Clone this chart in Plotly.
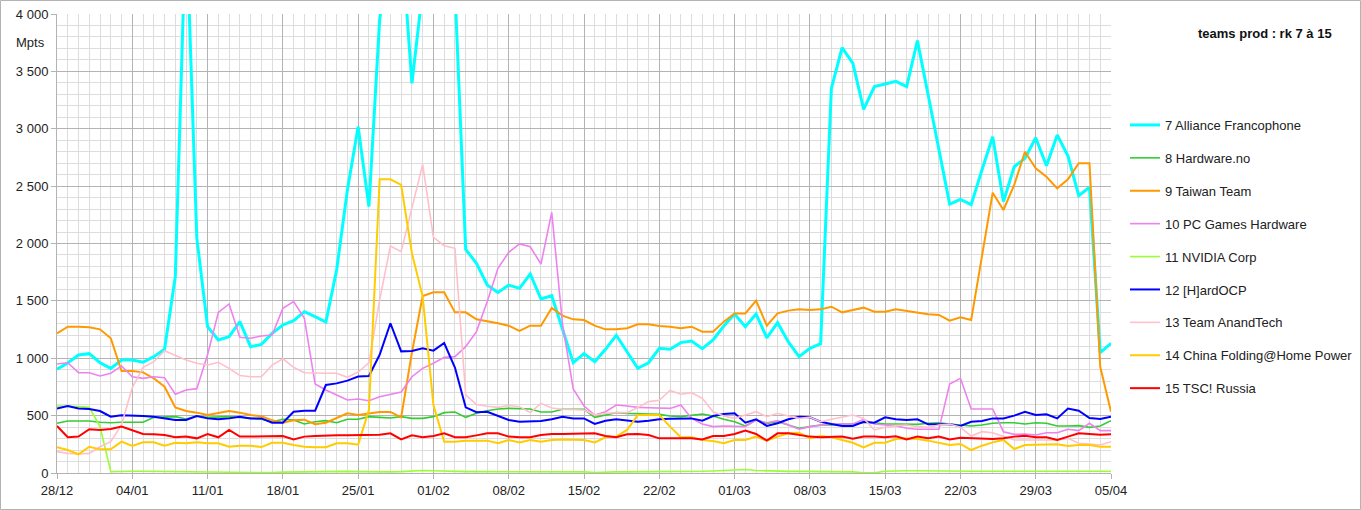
import pandas as pd
import plotly.graph_objects as go

dates = pd.date_range("2020-12-28", "2021-04-05", freq="D")

names = ["7 Alliance Francophone", "8 Hardware.no", "9 Taiwan Team", "10 PC Games Hardware",
         "11 NVIDIA Corp", "12 [H]ardOCP", "13 Team AnandTech", "14 China Folding@Home Power",
         "15 TSC! Russia"]
colors = ["#00FFFF", "#33CC33", "#FF9900", "#EE82EE", "#99FF33", "#0000FF", "#FFC0CB", "#FFCC00", "#FF0000"]
widths = [3, 1.6, 2, 1.6, 1.6, 2, 1.6, 2, 2]

alliance = [904, 958, 1028, 1040, 961, 912, 985,
            985, 965, 1014, 1078, 1711, 4850, 2045,
            1275, 1159, 1188, 1319, 1101, 1121, 1217,
            1290, 1327, 1406, 1362, 1316, 1769, 2466,
            3018, 2321, 3950, 4600, 4700, 3396, 4210,
            4500, 4400, 4220, 1949, 1827, 1638, 1574,
            1638, 1609, 1734, 1516, 1545, 1250, 961,
            1040, 970, 1078, 1200, 1057, 912, 961,
            1086, 1078, 1136, 1150, 1083, 1159, 1281,
            1386, 1275, 1386, 1177, 1310, 1142, 1014,
            1086, 1127, 3352, 3707, 3570, 3169, 3367,
            3390, 3413, 3367, 3768, 3294, 2821, 2344,
            2385, 2338, 2641, 2931, 2365, 2669, 2742,
            2922, 2678, 2946, 2763, 2417, 2490, 1049,
            1130]
hardware_no = [433, 453, 453, 453, 442, 438, 442,
               442, 442, 485, 485, 491, 471, 497,
               485, 491, 491, 485, 479, 468, 447,
               468, 462, 427, 447, 456, 438, 468,
               468, 491, 485, 479, 491, 476, 476,
               491, 526, 532, 485, 520, 543, 558,
               563, 561, 558, 532, 532, 555, 555,
               555, 485, 508, 526, 520, 514, 514,
               511, 497, 491, 505, 514, 497, 468,
               447, 410, 462, 433, 447, 418, 390,
               404, 418, 418, 427, 427, 438, 438,
               427, 427, 424, 424, 433, 438, 427,
               418, 410, 418, 433, 438, 438, 427,
               438, 433, 410, 410, 413, 398, 410,
               456]
taiwan = [1217, 1275, 1275, 1270, 1252, 1174, 889,
          889, 877, 825, 752, 572, 540, 526,
          505, 520, 540, 526, 505, 494, 459,
          438, 459, 465, 426, 438, 476, 520,
          505, 520, 532, 532, 485, 1050, 1543,
          1575, 1575, 1400, 1400, 1339, 1325, 1305,
          1284, 1238, 1284, 1284, 1438, 1371, 1339,
          1333, 1284, 1252, 1252, 1261, 1296, 1296,
          1281, 1275, 1261, 1275, 1232, 1232, 1319,
          1391, 1391, 1502, 1284, 1391, 1415, 1426,
          1421, 1426, 1449, 1400, 1421, 1441, 1406,
          1406, 1426, 1412, 1397, 1383, 1377, 1327,
          1357, 1333, 1888, 2443, 2292, 2510, 2800,
          2655, 2582, 2481, 2559, 2699, 2699, 926,
          534]
pcgh = [950, 961, 874, 874, 845, 869, 933,
        839, 825, 839, 831, 686, 723, 735,
        1030, 1400, 1473, 1182, 1174, 1194, 1203,
        1435, 1493, 1348, 776, 723, 680, 636,
        645, 630, 665, 688, 706, 839, 912,
        956, 1008, 1014, 1101, 1232, 1493, 1784,
        1923, 1996, 1972, 1821, 2272, 1300, 732,
        584, 505, 534, 593, 584, 572, 569,
        569, 563, 593, 476, 427, 404, 410,
        410, 404, 462, 438, 456, 418, 381,
        404, 418, 427, 427, 427, 468, 427,
        418, 413, 390, 381, 381, 381, 776,
        825, 558, 558, 558, 360, 337, 340,
        331, 351, 351, 381, 369, 433, 369,
        369]
nvidia = [584, 584, 578, 572, 404, 11, 15,
          15, 15, 14, 12, 10, 10, 10,
          10, 10, 10, 10, 8, 5, 3,
          8, 10, 10, 10, 10, 12, 14,
          12, 10, 10, 10, 12, 20, 22,
          20, 16, 14, 12, 12, 12, 12,
          12, 12, 10, 10, 10, 8, 8,
          10, 5, 10, 10, 10, 10, 10,
          10, 10, 10, 12, 15, 18, 22,
          25, 30, 22, 18, 15, 14, 14,
          14, 14, 14, 12, 10, 2, 2,
          15, 20, 20, 20, 18, 16, 15,
          15, 15, 15, 15, 15, 15, 14,
          12, 12, 12, 15, 15, 15, 15,
          15]
hardocp = [563, 584, 563, 558, 540, 491, 503,
           503, 497, 491, 476, 462, 462, 497,
           476, 468, 476, 491, 476, 476, 438,
           438, 534, 543, 543, 767, 781, 805,
           840, 845, 1030, 1305, 1060, 1063, 1086,
           1066, 1133, 919, 572, 530, 534, 497,
           462, 447, 453, 453, 468, 491, 476,
           476, 427, 456, 468, 456, 447, 456,
           468, 473, 476, 476, 456, 497, 514,
           520, 438, 468, 410, 433, 468, 491,
           485, 447, 427, 410, 410, 447, 438,
           485, 468, 462, 468, 424, 424, 424,
           410, 447, 453, 476, 476, 500, 534,
           505, 511, 476, 561, 543, 479, 471,
           491]
anandtech = [186, 171, 166, 171, 229, 273, 420,
             745, 921, 970, 1066, 1028, 985, 956,
             941, 965, 912, 850, 839, 839, 940,
             995, 921, 874, 869, 869, 869, 834,
             880, 960, 1508, 1978, 1929, 2307, 2690,
             2054, 1981, 1958, 680, 597, 581, 572,
             588, 578, 527, 607, 567, 555, 555,
             549, 505, 520, 526, 526, 570, 622,
             633, 720, 687, 700, 651, 534, 497,
             476, 505, 534, 491, 520, 497, 476,
             485, 447, 468, 485, 505, 476, 375,
             398, 413, 418, 404, 398, 418, 427,
             398, 322, 360, 351, 322, 288, 288,
             288, 288, 288, 302, 259, 253, 244,
             273]
china = [224, 200, 163, 229, 206, 206, 273,
         235, 267, 267, 238, 264, 259, 267,
         259, 259, 229, 238, 238, 226, 264,
         264, 244, 229, 224, 224, 259, 259,
         247, 549, 2559, 2559, 2510, 1915, 1537,
         593, 273, 273, 282, 282, 282, 259,
         288, 267, 288, 273, 288, 293, 288,
         288, 267, 311, 317, 375, 505, 505,
         505, 404, 311, 311, 288, 279, 259,
         288, 288, 317, 282, 317, 346, 351,
         302, 322, 311, 288, 264, 224, 264,
         264, 296, 302, 296, 282, 264, 244,
         253, 200, 238, 267, 288, 209, 244,
         244, 250, 250, 235, 244, 244, 229,
         229]
russia = [410, 311, 317, 381, 375, 383, 404,
          369, 340, 337, 331, 311, 317, 302,
          340, 311, 375, 317, 317, 317, 322,
          322, 293, 317, 322, 328, 328, 328,
          328, 328, 334, 346, 293, 328, 311,
          322, 346, 311, 311, 328, 346, 346,
          317, 311, 311, 331, 340, 340, 340,
          340, 346, 322, 311, 337, 340, 331,
          302, 302, 302, 302, 293, 322, 322,
          340, 369, 340, 282, 346, 346, 331,
          317, 311, 317, 317, 299, 317, 317,
          311, 320, 293, 317, 302, 317, 293,
          308, 302, 296, 296, 302, 317, 325,
          311, 311, 288, 317, 346, 340, 334,
          337]

series = [alliance, hardware_no, taiwan, pcgh, nvidia, hardocp, anandtech, china, russia]

ytick_vals = [0, 500, 1000, 1500, 2000, 2500, 3000, 3500, 4000]
ytick_text = ["0", "500", "1 000", "1 500", "2 000", "2 500", "3 000", "3 500", "4 000"]

FONT = "Liberation Sans, Arial, sans-serif"

fig = go.Figure()
for name, col, w, vals in zip(names, colors, widths, series):
    fig.add_trace(go.Scatter(x=dates, y=vals, name=name, mode="lines", legendgroup=name,
                             line=dict(color=col, width=w)))

L, R, T, B = 57, 250, 14, 37
W, H = 1361, 510
pw, ph = W - L - R, H - T - B

fig.update_layout(
    width=W, height=H, autosize=False,
    margin=dict(l=L, r=R, t=T, b=B, pad=0, autoexpand=False),
    paper_bgcolor="white", plot_bgcolor="white",
    font=dict(family=FONT, size=13, color="#222222"),
    showlegend=True,
    legend=dict(x=(1125 - L) / pw, xanchor="left", y=(473 - 110) / ph, yanchor="top",
                traceorder="grouped", tracegroupgap=13,
                font=dict(family=FONT, size=13, color="#222222"),
                bgcolor="rgba(0,0,0,0)", itemwidth=30),
    xaxis=dict(type="date", range=[dates[0], dates[-1]], tick0=dates[0], dtick=7 * 86400000,
               tickformat="%d/%m", showgrid=True, gridcolor="#b3b3b3", gridwidth=1,
               ticks="outside", ticklen=5, tickcolor="#b3b3b3",
               showline=True, linecolor="#b3b3b3", zeroline=False,
               minor=dict(dtick=86400000, showgrid=True, gridcolor="#dddddd", ticks=""),
               tickfont=dict(family=FONT, size=13, color="#222222")),
    yaxis=dict(range=[0, 4000], tickvals=ytick_vals, ticktext=ytick_text,
               showgrid=True, gridcolor="#b3b3b3", gridwidth=1,
               ticks="outside", ticklen=5, tickcolor="#b3b3b3",
               showline=True, linecolor="#b3b3b3", zeroline=False,
               minor=dict(dtick=100, tick0=0, showgrid=True, gridcolor="#dddddd", ticks=""),
               tickfont=dict(family=FONT, size=13, color="#222222")),
)

fig.add_annotation(text="<b>teams prod : rk 7 à 15</b>", xref="paper", yref="paper",
                   x=(1265 - L) / pw, y=(473 - 33) / ph, xanchor="center", yanchor="middle",
                   showarrow=False, font=dict(family=FONT, size=13, color="#111111"))
fig.add_annotation(text="Mpts", xref="paper", yref="paper",
                   x=(30 - L) / pw, y=(473 - 43) / ph, xanchor="center", yanchor="middle",
                   showarrow=False, font=dict(family=FONT, size=13, color="#222222"))
fig.add_shape(type="rect", xref="paper", yref="paper",
              x0=(0.5 - L) / pw, x1=(W - 0.5 - L) / pw,
              y0=(473 - (H - 0.5)) / ph, y1=(473 - 0.5) / ph,
              line=dict(color="#b3b3b3", width=1), fillcolor="rgba(0,0,0,0)", layer="below")

fig.write_html("out.html",
               config={"responsive": False, "displayModeBar": False, "staticPlot": True},
               post_script="document.body.style.margin='0';document.body.style.overflow='hidden';")
